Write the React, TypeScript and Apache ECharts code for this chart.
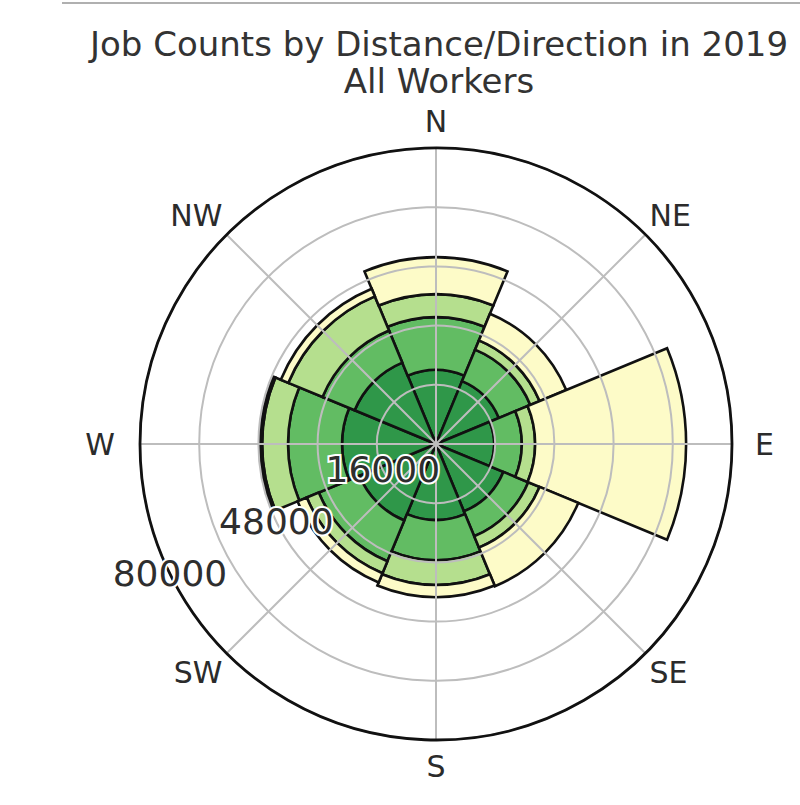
import React, { useEffect, useRef } from "react";
import * as echarts from "echarts";

const directions = ["N", "NE", "E", "SE", "S", "SW", "W", "NW"];
const lessThan10 = [20000, 18400, 15700, 19700, 20500, 22400, 25400, 23800];
const from10to24 = [14300, 9200, 7500, 7300, 10900, 11900, 14600, 9400];
const from25to50 = [6200, 2700, 3600, 3300, 6700, 3500, 7000, 10000];
const over50 = [10000, 7800, 40800, 11300, 3300, 2700, 600, 2200];
const radiusLabels = [16000, 48000, 80000];
const radiusMax = 80000;
const radiusStep = 16000;

const layers = [
  { name: "Less than 10 miles", data: lessThan10, color: "#2f9749" },
  { name: "10 to 24 miles", data: from10to24, color: "#62bc63" },
  { name: "25 to 50 miles", data: from25to50, color: "#b5df8e" },
  { name: "Greater than 50 miles", data: over50, color: "#fdfbc8" },
];

const FONT = "DejaVu Sans";
const CENTER = [436, 444];
const R = 296;

// rich-text style key per direction label, so cardinal labels sit a little further out
const labelKey: Record<string, string> = {
  N: "n", NE: "d", E: "e", SE: "d", S: "s", SW: "d", W: "w", NW: "d",
};

export default function App() {
  const ref = useRef<HTMLDivElement>(null);
  useEffect(() => {
    if (!ref.current) return;
    const chart = echarts.init(ref.current, null, { renderer: "svg" });
    const gridColor = "#bdbdbd";
    const lbl = { fontFamily: FONT, fontSize: 30, color: "#2b2b2b", lineHeight: 30 };
    chart.setOption({
      animation: false,
      backgroundColor: "#ffffff",
      title: {
        text: "Job Counts by Distance/Direction in 2019\nAll Workers",
        left: 434,
        textAlign: "center",
        top: 20,
        textStyle: {
          fontFamily: FONT,
          fontSize: 34,
          fontWeight: "normal",
          color: "#333",
          lineHeight: 37,
        },
      },
      graphic: [
        {
          type: "line",
          shape: { x1: 62, y1: 3, x2: 800, y2: 3 },
          style: { stroke: "#b0b0b0", lineWidth: 2 },
        },
      ],
      polar: [
        { center: CENTER, radius: R },
        { center: CENTER, radius: R },
        { center: CENTER, radius: R },
      ],
      angleAxis: [
        {
          polarIndex: 0,
          type: "category",
          data: directions,
          startAngle: 112.5,
          boundaryGap: true,
          z: 15,
          axisLine: { show: true, lineStyle: { color: "#111", width: 2.8 } },
          axisTick: { show: false },
          splitLine: { show: false },
          axisLabel: {
            ...lbl,
            margin: 6,
            formatter: (v: string) => `{${labelKey[v]}|${v}}`,
            rich: {
              n: { ...lbl, padding: [0, 0, 12, 0] },
              s: { ...lbl, padding: [11, 0, 0, 0] },
              e: { ...lbl, padding: [0, 0, 0, 17] },
              w: { ...lbl, padding: [0, 19, 0, 0] },
              d: { ...lbl },
            },
          },
        },
        {
          polarIndex: 1,
          type: "value",
          min: 0,
          max: 360,
          interval: 45,
          startAngle: 90,
          z: 10,
          axisLine: { show: false },
          axisTick: { show: false },
          axisLabel: { show: false },
          splitLine: { show: true, lineStyle: { color: gridColor, width: 2 } },
        },
        {
          polarIndex: 2,
          type: "value",
          min: 0,
          max: 360,
          startAngle: 206,
          axisLine: { show: false },
          axisTick: { show: false },
          axisLabel: { show: false },
          splitLine: { show: false },
        },
      ],
      radiusAxis: [
        {
          polarIndex: 0,
          min: 0,
          max: radiusMax,
          axisLine: { show: false },
          axisTick: { show: false },
          axisLabel: { show: false },
          splitLine: { show: false },
        },
        {
          polarIndex: 1,
          min: 0,
          max: radiusMax,
          interval: radiusStep,
          z: 10,
          axisLine: { show: false },
          axisTick: { show: false },
          axisLabel: { show: false },
          splitLine: { show: true, lineStyle: { color: gridColor, width: 2 } },
        },
        {
          polarIndex: 2,
          min: 0,
          max: radiusMax,
          interval: radiusStep,
          z: 20,
          axisLine: { show: false },
          axisTick: { show: false },
          splitLine: { show: false },
          axisLabel: {
            margin: 0,
            align: "center",
            verticalAlign: "middle",
            fontFamily: FONT,
            fontSize: 36,
            color: "#2e2e2e",
            textBorderColor: "#fff",
            textBorderWidth: 4,
            formatter: (v: number) => (radiusLabels.includes(v) ? String(v) : ""),
          },
        },
      ],
      series: layers.map((l) => ({
        type: "bar",
        name: l.name,
        coordinateSystem: "polar",
        polarIndex: 0,
        stack: "total",
        barCategoryGap: "0%",
        data: l.data,
        itemStyle: { color: l.color, borderColor: "#111", borderWidth: 2.6 },
      })),
    });
    return () => chart.dispose();
  }, []);
  return (
    <div
      ref={ref}
      style={{ position: "absolute", left: 0, top: 0, width: 800, height: 805 }}
    />
  );
}
